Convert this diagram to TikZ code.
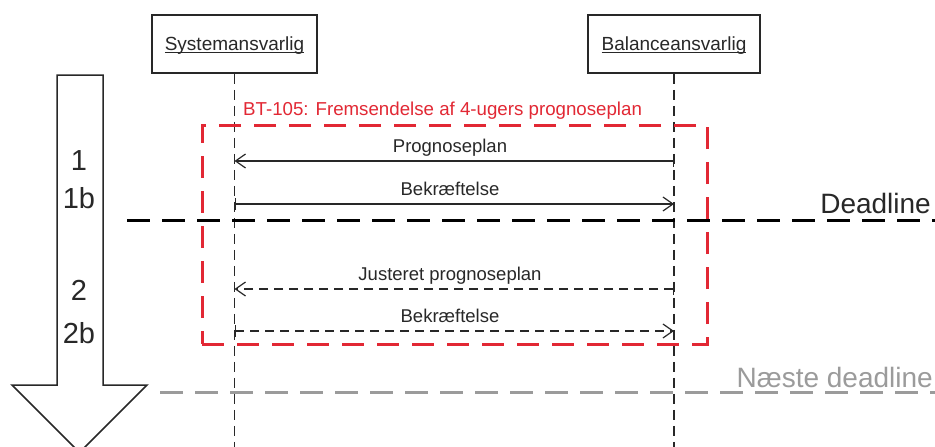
\documentclass[tikz,border=0pt]{standalone}
\usepackage{fontspec}
\setmainfont{Liberation Sans}
\usetikzlibrary{arrows.meta}
\definecolor{bred}{RGB}{226,40,52}
\definecolor{lgray}{RGB}{155,155,155}
\definecolor{dgray}{RGB}{40,40,40}
\newcommand{\myul}[1]{\setbox0\hbox{#1}\rlap{\rule[-2.6pt]{\wd0}{1pt}}\box0}
\tikzset{
  actor/.style={draw=dgray, line width=1.5pt, fill=white, inner sep=0pt,
    text height=16pt, text depth=4pt, font=\fontsize{19}{19}\selectfont, text=dgray},
  lifeline/.style={draw=dgray, line width=1.5pt, dash pattern=on 10pt off 6pt},
  msgsolid/.style={draw=dgray, line width=1.2pt,
    {Bar[width=12pt,line width=1.2pt]}-{Straight Barb[length=10pt,width=14pt,line width=1.2pt]}},
  msgdash/.style={msgsolid, dash pattern=on 9pt off 6pt},
  msglabel/.style={anchor=base, inner sep=0pt, font=\fontsize{18.5}{18.5}\selectfont, text=dgray},
  redframe/.style={draw=bred, line width=3pt, dash pattern=on 22pt off 13pt, inner sep=0pt},
  redtitle/.style={anchor=base west, inner sep=0pt, font=\fontsize{18.7}{18.7}\selectfont, text=bred},
  deadline/.style={line width=3pt, dash pattern=on 23pt off 12pt},
  bigtext/.style={anchor=base east, inner sep=0pt, font=\fontsize{28}{28}\selectfont},
  stepnum/.style={anchor=base, inner sep=0pt, font=\fontsize{29}{29}\selectfont, text=dgray},
}
\begin{document}
\begin{tikzpicture}[x=1pt,y=-1pt]
\useasboundingbox (0,0) rectangle (935,447);
\clip (0,0) rectangle (935,447);
\fill[white] (0,0) rectangle (935,447);

% big down arrow
\draw[draw=dgray, line width=1.5pt, fill=white, line join=miter]
  (57,75) -- (103,75) -- (103,385) -- (147,385) -- (79.5,452.5)
  -- (12,385) -- (57,385) -- cycle;
\node[stepnum] (n1) at (79,170) {1};
\node[stepnum] (n1b) at (79,208) {1b};
\node[stepnum] (n2) at (79,300) {2};
\node[stepnum] (n2b) at (79,343) {2b};

% actors
\node[actor, minimum width=165pt, minimum height=58pt] (sys) at (234.5,44) {\myul{Systemansvarlig}};
\node[actor, minimum width=172pt, minimum height=58pt] (bal) at (674,44) {\myul{Balanceansvarlig}};
\coordinate (sysend) at (234.5,447);
\coordinate (balend) at (674,447);
\draw[lifeline] (sys.south) -- (sysend);
\draw[lifeline] (bal.south) -- (balend);

% deadlines
\coordinate (dlA) at (127,220);
\coordinate (dlB) at (935,220);
\draw[deadline, draw=black] (dlA) -- (dlB);
\node[bigtext, text=dgray] (dltext) at (931,213) {Deadline};
\coordinate (ndA) at (160,392);
\coordinate (ndB) at (935,392);
\draw[deadline, draw=lgray] (ndA) -- (ndB);
\node[bigtext, text=lgray] (ndtext) at (933,387) {Næste deadline};

% red frame
\node[redframe, minimum width=505pt, minimum height=219pt] (frame) at (454.5,234.5) {};
\node[redtitle] (title) at (243,115) {BT-105: Fremsendelse af 4-ugers prognoseplan};

% messages
\coordinate (s1) at (234.5,161); \coordinate (b1) at (674,161);
\coordinate (s2) at (234.5,204); \coordinate (b2) at (674,204);
\coordinate (s3) at (234.5,289); \coordinate (b3) at (674,289);
\coordinate (s4) at (234.5,331); \coordinate (b4) at (674,331);
\draw[msgsolid] (b1) -- (s1);
\draw[msgsolid] (s2) -- (b2);
\draw[msgdash] (b3) -- (s3);
\draw[msgdash] (s4) -- (b4);
\node[msglabel] (m1) at (450,152) {Prognoseplan};
\node[msglabel] (m2) at (450,195) {Bekræftelse};
\node[msglabel] (m3) at (450,280) {Justeret prognoseplan};
\node[msglabel] (m4) at (450,322) {Bekræftelse};
\end{tikzpicture}
\end{document}
